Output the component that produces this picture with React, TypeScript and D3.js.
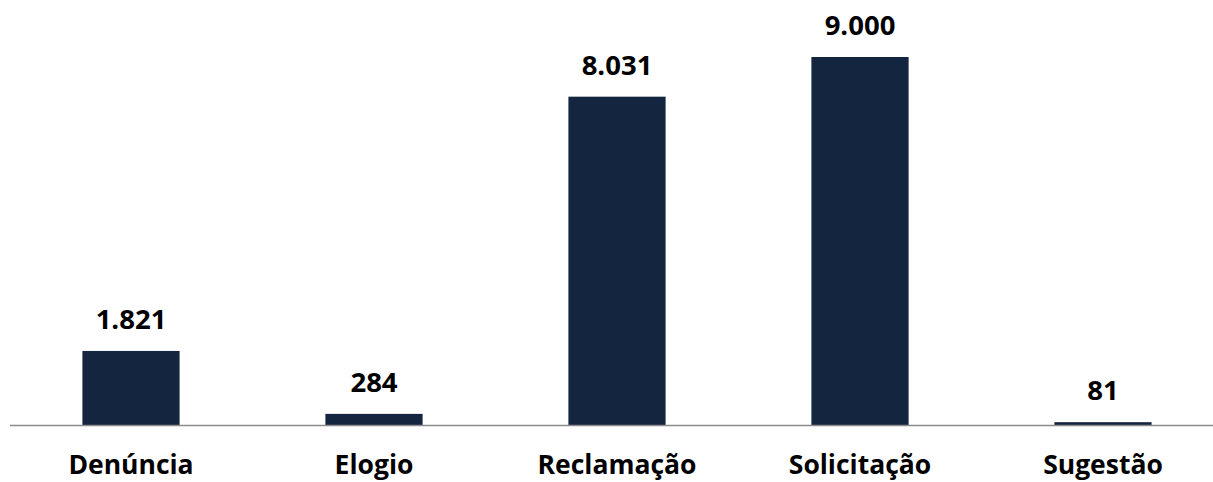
import React from "react";
import * as d3 from "d3";

const categories = ["Denúncia", "Elogio", "Reclamação", "Solicitação", "Sugestão"];
const values = [1821, 284, 8031, 9000, 81];
const valueLabels = ["1.821", "284", "8.031", "9.000", "81"];

const W = 1213;
const H = 482;
const baseY = 425.5;
const topY = 57;

export default function App() {
  const x = d3.scaleBand<string>().domain(categories).range([9.5, 1224.5]).paddingInner(0.6).paddingOuter(0.3);
  const y = d3.scaleLinear().domain([0, 9000]).range([baseY, topY]);
  const font = "'Open Sans', sans-serif";
  return (
    <svg width={W} height={H} style={{ position: "absolute", left: 0, top: 0 }}>
      <rect width={W} height={H} fill="#ffffff" />
      {categories.map((c, i) => {
        const bx = x(c)!;
        const bw = x.bandwidth();
        const cx = bx + bw / 2;
        return (
          <g key={c}>
            <rect x={bx} y={y(values[i])} width={bw} height={baseY - y(values[i])} fill="#13253F" />
            <text x={cx} y={y(values[i]) - 22} textAnchor="middle" fontFamily={font} fontWeight={700} fontSize={27.5} fill="#000">
              {valueLabels[i]}
            </text>
            <text x={cx} y={474} textAnchor="middle" fontFamily={font} fontWeight={700} fontSize={26.5} fill="#000">
              {c}
            </text>
          </g>
        );
      })}
      <line x1={10} x2={W} y1={baseY} y2={baseY} stroke="#8c8c8c" strokeWidth={1.5} />
    </svg>
  );
}
